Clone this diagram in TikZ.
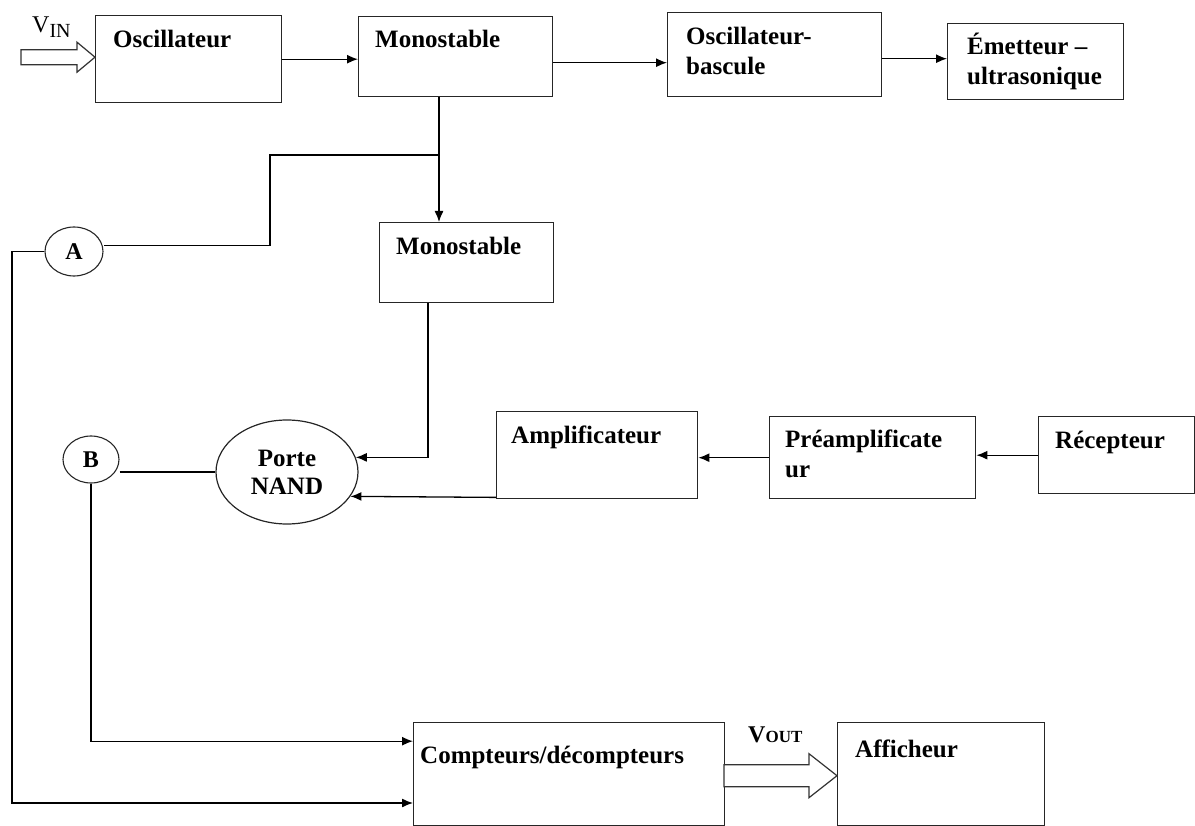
\documentclass[tikz,border=0pt]{standalone}
\usepackage{fontspec}
\setmainfont{Liberation Serif}
\usetikzlibrary{calc,arrows.meta,shapes.geometric,positioning}

\begin{document}
\begin{tikzpicture}[x=1pt,y=-1pt]

\tikzset{block/.style={draw=black!85,line width=1.4pt,inner sep=0pt,anchor=north west,shape=rectangle},
gate/.style={draw=black!85,line width=1.2pt,inner sep=0pt,shape=ellipse,align=center,font=\bfseries\fontsize{25}{28}\selectfont},
point/.style={draw=black!85,line width=1.1pt,inner sep=0pt,shape=ellipse,font=\bfseries\fontsize{24}{24}\selectfont},
txt/.style={inner sep=0pt,anchor=base west,align=left,font=\bfseries\fontsize{25}{30}\selectfont},
links/.style={->,>={Latex[length=11pt,width=9pt]},line width=1.3pt},
wires/.style={line width=1.3pt},
bigarrow/.style={draw=black!80,fill=white,line width=1.2pt,line join=miter}}

\useasboundingbox (0,0) rectangle (1195,826);

% Emitter chain
\node (osc) [block,minimum width=186pt,minimum height=87pt] at (95,15) {};
\node (mono1) [block,minimum width=194pt,minimum height=80pt] at (358,16) {};
\node (oscb) [block,minimum width=214pt,minimum height=84pt] at (667,12) {};
\node (emet) [block,minimum width=176pt,minimum height=76pt] at (947,23) {};

% Receiver chain
\node (mono2) [block,minimum width=174pt,minimum height=80pt] at (379,222) {};
\node (nand) [gate,minimum width=142pt,minimum height=104pt] at (287,472) {Porte\\NAND};
\node (ampli) [block,minimum width=201pt,minimum height=87pt] at (496,411) {};
\node (preamp) [block,minimum width=206pt,minimum height=82pt] at (769,416) {};
\node (recep) [block,minimum width=156pt,minimum height=77pt] at (1038,416) {};

% Counting and display
\node (A) [point,minimum width=58pt,minimum height=49pt] at (74,251.5) {\raisebox{-4pt}{A}};
\node (B) [point,minimum width=56pt,minimum height=47pt] at (91,459.5) {\raisebox{-5pt}{B}};
\node (comp) [block,minimum width=311pt,minimum height=103pt] at (413,722) {};
\node (aff) [block,minimum width=207pt,minimum height=103pt] at (837,722) {};

% Block texts (two-line texts sit on their last line)
\node (osct) [txt] at (113,48) {Oscillateur};
\node (mono1t) [txt] at (375,48) {Monostable};
\node (oscbt) [txt] at (686,75) {Oscillateur-\\bascule};
\node (emett) [txt] at (967,85) {Émetteur --\\ultrasonique};
\node (mono2t) [txt] at (396,255) {Monostable};
\node (amplit) [txt] at (511,443) {Amplificateur};
\node (preampt) [txt] at (785,477) {Préamplificate\\ur};
\node (recept) [txt] at (1055,449) {Récepteur};
\node (compt) [txt] at (420,763) {Compteurs/décompteurs};
\node (afft) [txt] at (855,757) {Afficheur};

% Signal names
\node (vin) [inner sep=0pt,anchor=base west] at (32,33) {\fontsize{24}{24}\selectfont V\raisebox{-5pt}{\fontsize{20}{20}\selectfont IN}};
\node (vout) [inner sep=0pt,anchor=base west] at (748,742) {\bfseries\fontsize{24}{24}\selectfont V{\fontsize{17}{17}\selectfont OUT}};

% Hollow arrows
\draw[bigarrow] ([yshift=2pt]osc.west) -- ++(-18,-15) -- ++(0,7.5) -- ++(-56,0) -- ++(0,15) -- ++(56,0) -- ++(0,7.5) -- cycle;
\draw[bigarrow] ([yshift=-1.5pt]aff.west) -- ++(-28,-22) -- ++(0,11) -- ++(-85,0) -- ++(0,22) -- ++(85,0) -- ++(0,11) -- cycle;

% Arrows of the emitter chain
\draw[links] (osc.east) -- (osc.east -| mono1.west);
\draw[links] ([yshift=-6pt]mono1.east) -- ([yshift=-6pt]mono1.east -| oscb.west);
\draw[links] ([yshift=-4pt]oscb.east) -- ([yshift=-4pt]oscb.east -| emet.west);

% Split below the first monostable
\coordinate (split) at (439,155);
\draw[links] (mono1.south -| split) -- (split |- mono2.north);
\draw[wires] (split) -- ++(-169,0) |- ([yshift=6pt]A.east);

% Arrows of the receiver chain
\draw[links] (recep.west) -- (recep.west -| preamp.east);
\draw[links] (preamp.west) -- (preamp.west -| ampli.east);
\draw[links] ([yshift=2pt]ampli.south west) -- (nand.-21);
\draw[links] (428,0 |- mono2.south) |- (nand.12);
\draw[wires] (B.east |- nand.west) -- (nand.west);

% Inputs of the counter
\coordinate (rail) at (12,803);
\draw[links] (A.west) -| (rail) -- (rail -| comp.west);
\draw[links] (B.south) |- ([yshift=33pt]comp.west);

\end{tikzpicture}
\end{document}
